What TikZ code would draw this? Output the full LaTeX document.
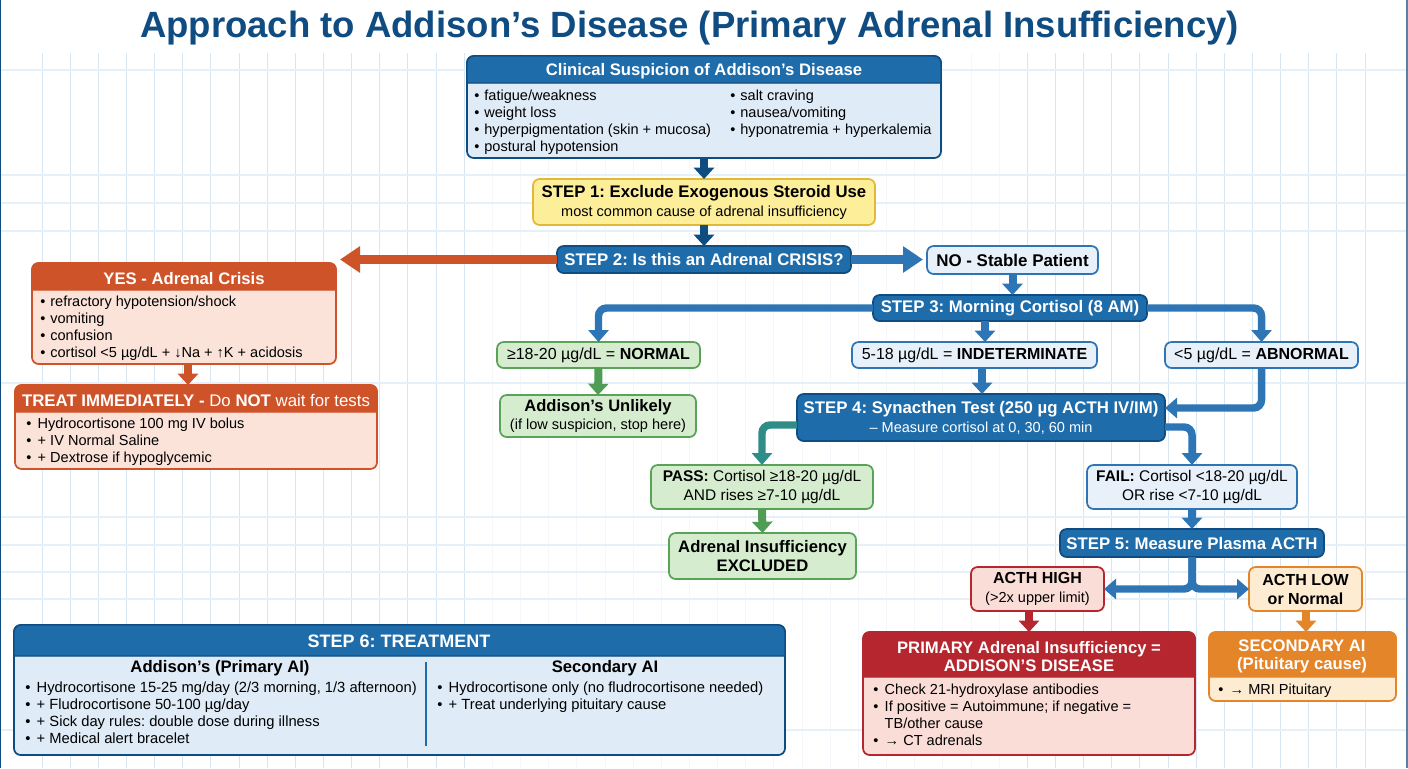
\documentclass[tikz,border=0pt]{standalone}
\usepackage{fontspec}
\setmainfont{Liberation Sans}
\AtBeginDocument{\frenchspacing}
\usetikzlibrary{arrows.meta,calc}
\definecolor{titleblue}{HTML}{0F4C81}
\definecolor{hdrblue}{HTML}{1F6CAB}
\definecolor{edgeblue}{HTML}{0F4C81}
\definecolor{arrblue}{HTML}{2E75B6}
\definecolor{lightblue}{HTML}{DFEBF6}
\definecolor{lightblueT}{HTML}{E8F1FA}
\definecolor{lineblue}{HTML}{2E75B6}
\definecolor{greenfill}{HTML}{D6ECCF}
\definecolor{greenedge}{HTML}{5AA258}
\definecolor{greenarr}{HTML}{4F9D55}
\definecolor{tealarr}{HTML}{2F8D88}
\definecolor{rusthdr}{HTML}{CF5329}
\definecolor{rustbody}{HTML}{FBE3DA}
\definecolor{redhdr}{HTML}{B5262E}
\definecolor{redbody}{HTML}{FBDDD8}
\definecolor{orangehdr}{HTML}{E5852A}
\definecolor{orangebody}{HTML}{FDEBD2}
\definecolor{yellowfill}{HTML}{FDEE99}
\definecolor{yellowedge}{HTML}{E0B83A}
\definecolor{gridside}{HTML}{D6E6F3}
\definecolor{gridmid}{HTML}{F4F8FC}
\definecolor{gridh}{HTML}{E6F0F8}
\newcommand{\fz}[1]{\fontsize{#1}{12.75}\selectfont}
\newcommand{\bt}{\makebox[7.6pt][l]{•}}
\newcommand{\bw}{\makebox[8.6pt][l]{•}}
\newcommand{\place}[7]{%
  \pgfmathsetmacro{\boxw}{(#5-#3)*0.75}%
  \pgfmathsetmacro{\boxh}{(#6-#4)*0.75}%
  \pgfmathsetmacro{\boxx}{(#3+#5)/2}%
  \pgfmathsetmacro{\boxy}{(#4+#6)/2}%
  \node[#2,minimum width=\boxw pt,minimum height=\boxh pt,inner sep=0pt,outer sep=0pt] (#1) at (\boxx,\boxy) {#7};}
% panel: name, edge colour, header fill, body colour, x1,y1,x2,y2,yh
\newcommand{\panel}[9]{%
  \place{#1}{boxbase,draw=#2,fill=#4}{#5}{#6}{#7}{#8}{}%
  \filldraw[fill=#3,draw=#2,line width=1.1pt] (#5,#9) [rounded corners=5pt] -- (#5,#6) -- (#7,#6) [sharp corners] -- (#7,#9) -- cycle;}
\tikzset{
  x=0.75pt,y=-0.75pt,
  boxbase/.style={rectangle,rounded corners=5pt,line width=1.3pt,align=center,font=\fz{10.9}},
  stepbox/.style={boxbase,draw=edgeblue,fill=hdrblue,text=white,font=\fz{12.6}\bfseries},
  infobox/.style={boxbase,draw=lineblue,fill=lightblueT,font=\fz{12}},
  greenbox/.style={boxbase,draw=greenedge,fill=greenfill,font=\fz{12}},
  hdrtext/.style={text=white,font=\fz{12.5}\bfseries,align=center,inner sep=0pt,yshift=-1pt},
  bodytext/.style={anchor=north west,align=left,inner sep=0pt,font=\fz{10.9}},
  sixtext/.style={bodytext,font=\fz{11.05}},
  thinarr/.style={line width=6pt,-{Triangle[length=8.5pt,width=15pt]}},
  widearr/.style={line width=6.4pt,-{Triangle[length=15pt,width=19pt]}},
  routed/.style={line width=5.6pt,rounded corners=6pt,-{Triangle[length=9pt,width=15pt]}},
}
\begin{document}
\begin{tikzpicture}
\useasboundingbox (0,0) rectangle (1408,768);
\fill[white] (0,0) rectangle (1408,768);
% background grid
\foreach \k in {0,...,47}{
  \pgfmathsetmacro{\gx}{42+28.15*\k}
  \pgfmathparse{(\gx>470 && \gx<1010) ? 1 : 0}
  \ifdim\pgfmathresult pt>0.5pt\relax
    \draw[gridmid,line width=.7pt] (\gx,53) -- (\gx,768);
  \else
    \draw[gridside,line width=.7pt] (\gx,53) -- (\gx,768);
  \fi
}
\foreach \gy in {70,175,203,231,383,517,545,572,599,730}{
  \draw[gridh,line width=.8pt] (0,\gy) -- (1408,\gy);
}
\draw[edgeblue,line width=1.2pt] (0.5,0) -- (0.5,768);
\draw[edgeblue!70,line width=1.2pt] (1407,0) -- (1407,768);
% title
\node[text=titleblue,font=\fontsize{27.4}{32}\selectfont\bfseries,inner sep=0pt] (title) at (689.5,28.5) {Approach to Addison’s Disease (Primary Adrenal Insufficiency)};
% clinical suspicion
\panel{clin}{edgeblue}{hdrblue}{lightblue}{467}{56}{941}{158}{83}
\node[hdrtext] (clinT) at (704,70) {Clinical Suspicion of Addison’s Disease};
\node[bodytext] (clinL) at (474,90) {\bt fatigue/weakness\\\bt weight loss\\\bt hyperpigmentation (skin + mucosa)\\\bt postural hypotension};
\node[bodytext] (clinR) at (730,90) {\bt salt craving\\\bt nausea/vomiting\\\bt hyponatremia + hyperkalemia};
% steps 1-3
\place{step1}{boxbase,draw=yellowedge,fill=yellowfill}{533}{179}{875}{225}{{\fz{12.55}\bfseries STEP 1: Exclude Exogenous Steroid Use}\\[1.5pt]{\fz{10.9}most common cause of adrenal insufficiency}}
\place{step2}{stepbox}{557}{246}{851}{273}{STEP 2: Is this an Adrenal CRISIS?}
\place{no}{infobox,font=\fz{12.7}\bfseries}{927}{246}{1098}{274}{NO - Stable Patient}
\place{step3}{stepbox}{873}{295}{1147}{321}{STEP 3: Morning Cortisol (8 AM)}
\place{normal}{greenbox}{497}{342}{700}{368}{≥18-20 µg/dL = \textbf{NORMAL}}
\place{indet}{infobox}{852}{342}{1097}{368}{5-18 µg/dL = \textbf{INDETERMINATE}}
\place{abn}{infobox}{1165}{342}{1358}{368}{<5 µg/dL = \textbf{ABNORMAL}}
\place{unlikely}{greenbox}{500}{395}{696}{437}{{\fz{12.4}\bfseries Addison's Unlikely}\\[0.5pt]{\fz{10.9}(if low suspicion, stop here)}}
\place{step4}{stepbox}{797}{394}{1165}{441}{{\fz{12.6}\bfseries STEP 4: Synacthen Test (250 µg ACTH IV/IM)}\\[1.5pt]{\fz{10.9}\mdseries – Measure cortisol at 0, 30, 60 min}}
\place{pass}{greenbox,font=\fz{11.6}}{651}{465}{873}{509}{\textbf{PASS:} Cortisol ≥18-20 µg/dL\\[1.5pt]AND rises ≥7-10 µg/dL}
\place{fail}{infobox,font=\fz{11.6}}{1087}{465}{1297}{509}{\textbf{FAIL:} Cortisol <18-20 µg/dL\\[1.5pt]OR rise <7-10 µg/dL}
\place{excl}{greenbox,font=\fz{12.5}\bfseries}{669}{533}{856}{579}{Adrenal Insufficiency\\[1.5pt]EXCLUDED}
\place{step5}{stepbox}{1060}{529}{1324}{557}{STEP 5: Measure Plasma ACTH}
\place{high}{boxbase,draw=redhdr,fill=redbody}{971}{567}{1104}{611}{{\fz{12}\bfseries ACTH HIGH}\\[1.5pt]{\fz{10.9}(>2x upper limit)}}
\place{low}{boxbase,draw=orangehdr,fill=orangebody,font=\fz{12}\bfseries}{1249}{567}{1362}{611}{ACTH LOW\\[1.5pt]or Normal}
% crisis
\panel{yes}{rusthdr}{rusthdr}{rustbody}{32}{263}{336}{364}{290}
\node[hdrtext] (yesT) at (184,277) {YES - Adrenal Crisis};
\node[bodytext] (yesB) at (40,296) {\bt refractory hypotension/shock\\\bt vomiting\\\bt confusion\\\bt cortisol <5 µg/dL + ↓Na + ↑K + acidosis};
\panel{treat}{rusthdr}{rusthdr}{rustbody}{15}{385}{377}{469}{412}
\node[hdrtext,font=\fz{12.6}] (treatT) at (196,399) {\textbf{TREAT IMMEDIATELY -} Do \textbf{NOT} wait for tests};
\node[bodytext] (treatB) at (26,418) {\bw Hydrocortisone 100 mg IV bolus\\\bw + IV Normal Saline\\\bw + Dextrose if hypoglycemic};
% primary / secondary
\panel{prim}{redhdr}{redhdr}{redbody}{863}{632}{1195}{755}{677}
\node[hdrtext] (primT) at (1029,655) {PRIMARY Adrenal Insufficiency =\\[1pt]ADDISON'S DISEASE};
\node[bodytext] (primB) at (873,684) {\bw Check 21-hydroxylase antibodies\\\bw If positive = Autoimmune; if negative =\\\hspace*{8.6pt}TB/other cause\\\bw → CT adrenals};
\panel{sec}{orangehdr}{orangehdr}{orangebody}{1209}{632}{1396}{701}{677}
\node[hdrtext] (secT) at (1302,655) {SECONDARY AI\\[1pt](Pituitary cause)};
\node[bodytext] (secB) at (1218,684) {\bw → MRI Pituitary};
% step 6
\panel{six}{edgeblue}{hdrblue}{lightblue}{14}{625}{785}{755}{656}
\node[hdrtext,font=\fz{13.5}\bfseries] (sixT) at (399,640) {STEP 6: TREATMENT};
\node[font=\fz{12.5}\bfseries,inner sep=0pt] (sixA) at (220,668) {Addison's (Primary AI)};
\node[font=\fz{12.5}\bfseries,inner sep=0pt] (sixB) at (605,668) {Secondary AI};
\node[sixtext] (sixL) at (25,682) {\bw Hydrocortisone 15-25 mg/day (2/3 morning, 1/3 afternoon)\\\bw + Fludrocortisone 50-100 µg/day\\\bw + Sick day rules: double dose during illness\\\bw + Medical alert bracelet};
\node[sixtext] (sixR) at (437,682) {\bw Hydrocortisone only (no fludrocortisone needed)\\\bw + Treat underlying pituitary cause};
\coordinate (divT) at (426,662);
\coordinate (divB) at (426,746);
\draw[hdrblue,line width=1.1pt] (divT) -- (divB);
% connectors
\coordinate (yesTip) at (340,259.5);
\coordinate (crisisX) at (188,0);
\coordinate (indX) at (985,0);
\coordinate (indX2) at (982,0);
\coordinate (y4a) at (0,408);
\coordinate (y4b) at (0,427);
\coordinate (y4c) at (0,425);
\coordinate (lowX) at (1306,0);
\draw[thinarr,edgeblue] (clin.south) -- (step1.north);
\draw[thinarr,edgeblue] (step1.south) -- (step2.north);
\draw[widearr,rusthdr] (step2.west) -- (yesTip);
\draw[widearr,arrblue] (step2.east) -- ([xshift=-3pt]no.west |- step2.east);
\draw[thinarr,arrblue] (no.south) -- (step3.north -| no.south);
\draw[routed,arrblue] (step3.west) -| (normal.north);
\draw[routed,arrblue] (step3.east) -| (abn.north);
\draw[thinarr,arrblue] (step3.south -| indX) -- (indet.north -| indX);
\draw[thinarr,greenarr] (normal.south) -- (unlikely.north);
\draw[thinarr,arrblue] (indet.south -| indX2) -- (step4.north -| indX2);
\draw[routed,arrblue] (abn.south) |- (step4.east |- y4a);
\draw[routed,arrblue] (step4.east |- y4b) -| (fail.north);
\draw[routed,tealarr] (step4.west |- y4c) -| (pass.north);
\draw[thinarr,greenarr] (pass.south) -- (excl.north);
\draw[thinarr,arrblue] (fail.south) -- (step5.north);
\draw[routed,arrblue] (step5.south) |- (high.east);
\draw[routed,arrblue] (step5.south) |- (low.west);
\draw[thinarr,redhdr] (high.south -| prim.north) -- (prim.north);
\draw[thinarr,orangehdr] (low.south -| lowX) -- (sec.north -| lowX);
\draw[thinarr,rusthdr] (yes.south -| crisisX) -- (treat.north -| crisisX);
\end{tikzpicture}
\end{document}
